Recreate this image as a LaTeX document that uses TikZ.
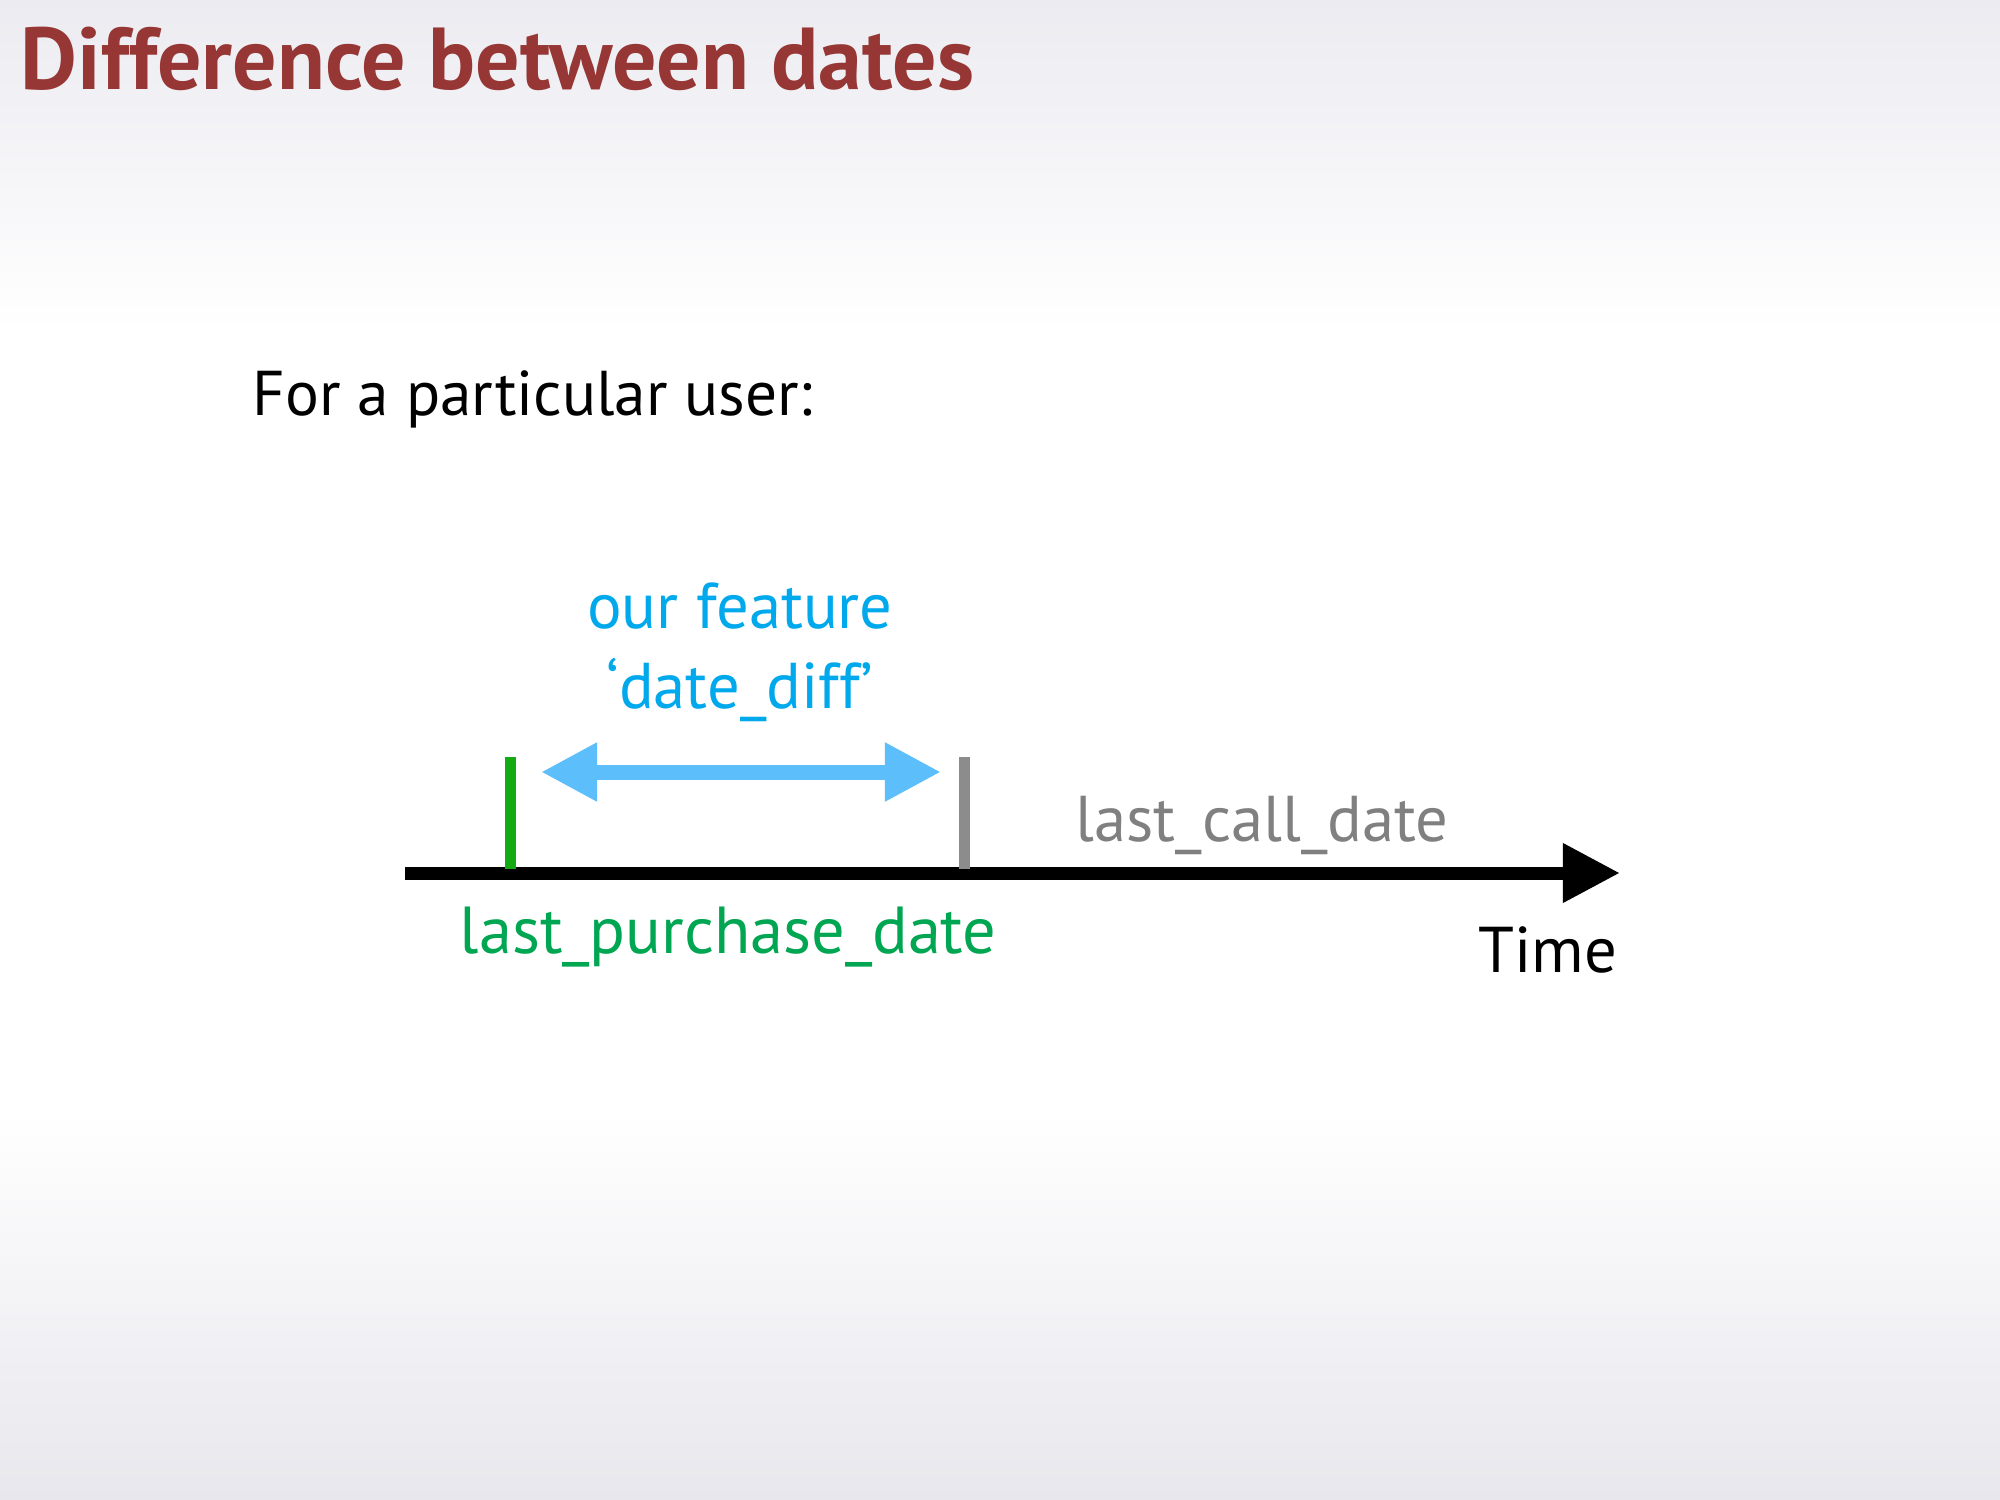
\documentclass[tikz,border=0pt]{standalone}
\usepackage{fontspec}
\setmainfont{PT Sans}
\usetikzlibrary{arrows.meta}

\definecolor{titlered}{RGB}{150,55,53}
\definecolor{featblue}{RGB}{0,168,236}
\definecolor{arrowblue}{RGB}{92,190,250}
\definecolor{callgray}{RGB}{128,128,128}
\definecolor{tickgray}{RGB}{140,140,140}
\definecolor{buygreen}{RGB}{0,166,81}
\definecolor{tickgreen}{RGB}{20,170,20}
\definecolor{bgtop}{RGB}{235,235,241}
\definecolor{bgbot}{RGB}{231,231,237}

% slide background: grey at top and bottom, white in the middle
% (the path is mapped onto the 25bp..75bp band of the shading)
\pgfdeclareverticalshading{slidebg}{100bp}{%
  color(0bp)=(bgbot); color(25bp)=(bgbot); color(38bp)=(white);
  color(64bp)=(white); color(75bp)=(bgtop); color(100bp)=(bgtop)}

\tikzset{
  lbl/.style={inner sep=0pt, font=\fontsize{18.4}{22}\selectfont},
  ttl/.style={inner sep=0pt, font=\fontsize{25}{30}\selectfont\bfseries, text=titlered},
  tick/.style={line width=0.11cm},
}

\begin{document}
\begin{tikzpicture}[x=0.01cm, y=-0.01cm]
  \useasboundingbox (0,0) rectangle (2000,1500);
  \shade[shading=slidebg] (0,0) rectangle (2000,1500);

  % title and intro line
  \node[ttl, anchor=base west] (title) at (20,90) {Difference between dates};
  \node[lbl, font=\fontsize{18}{22}\selectfont, anchor=base west] (intro) at (252,415) {For a particular user:};

  % time axis
  \coordinate (axisL) at (405,873);
  \coordinate (axisR) at (1620,873);
  \draw[line width=0.13cm, -{Triangle[length=0.57cm, width=0.56cm]}] (axisL) -- (axisR);

  % event markers
  \coordinate (buyTop) at (510,757);
  \coordinate (buyBot) at (510,869);
  \coordinate (callTop) at (964,757);
  \coordinate (callBot) at (964,869);
  \draw[tick, tickgreen] (buyTop) -- (buyBot);
  \draw[tick, tickgray] (callTop) -- (callBot);

  % the interval between the two events
  \coordinate (spanL) at (541,772);
  \coordinate (spanR) at (941,772);
  \draw[arrowblue, line width=0.15cm,
        {Triangle[length=0.56cm, width=0.55cm]}-{Triangle[length=0.56cm, width=0.55cm]}]
        (spanL) -- (spanR);

  % labels
  \node[lbl, text=featblue, anchor=base] (feat1) at (740,628) {our feature};
  \node[lbl, text=featblue, anchor=base] (feat2) at (740,708) {‘date\_diff’};
  \node[lbl, text=callgray, anchor=base west] (calllbl) at (1075,841) {last\_call\_date};
  \node[lbl, font=\fontsize{18.9}{22}\selectfont, text=buygreen, anchor=base west] (buylbl) at (459,953) {last\_purchase\_date};
  \node[lbl, anchor=base east] (timelbl) at (1618,972) {Time};
\end{tikzpicture}
\end{document}
